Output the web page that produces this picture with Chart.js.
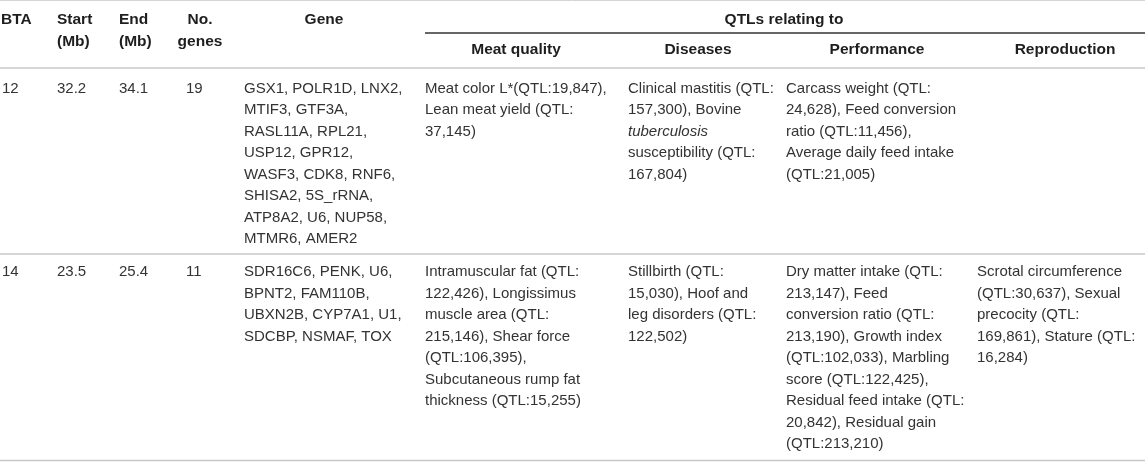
<!DOCTYPE html>
<html>
<head>
<meta charset="utf-8">
<script src="https://cdn.jsdelivr.net/npm/chart.js@4.4.1/dist/chart.umd.min.js"></script>
<style>
  html, body { margin: 0; padding: 0; background: #ffffff; }
  #wrap { width: 1145px; height: 462px; }
</style>
</head>
<body>
<div id="wrap"><canvas id="c" width="1145" height="462"></canvas></div>
<script>
// ---------- DATA ----------
const BTA = ["12", "14"];
const START_MB = ["32.2", "23.5"];
const END_MB = ["34.1", "25.4"];
const NO_GENES = ["19", "11"];
const GENES = [
  ["GSX1, POLR1D, LNX2,", "MTIF3, GTF3A,", "RASL11A, RPL21,", "USP12, GPR12,", "WASF3, CDK8, RNF6,", "SHISA2, 5S_rRNA,", "ATP8A2, U6, NUP58,", "MTMR6, AMER2"],
  ["SDR16C6, PENK, U6,", "BPNT2, FAM110B,", "UBXN2B, CYP7A1, U1,", "SDCBP, NSMAF, TOX"]
];
const MEAT_QUALITY = [
  ["Meat color L*(QTL:19,847),", "Lean meat yield (QTL:", "37,145)"],
  ["Intramuscular fat (QTL:", "122,426), Longissimus", "muscle area (QTL:", "215,146), Shear force", "(QTL:106,395),", "Subcutaneous rump fat", "thickness (QTL:15,255)"]
];
const DISEASES = [
  ["Clinical mastitis (QTL:", "157,300), Bovine", "_tuberculosis", "susceptibility (QTL:", "167,804)"],
  ["Stillbirth (QTL:", "15,030), Hoof and", "leg disorders (QTL:", "122,502)"]
];
const PERFORMANCE = [
  ["Carcass weight (QTL:", "24,628), Feed conversion", "ratio (QTL:11,456),", "Average daily feed intake", "(QTL:21,005)"],
  ["Dry matter intake (QTL:", "213,147), Feed", "conversion ratio (QTL:", "213,190), Growth index", "(QTL:102,033), Marbling", "score (QTL:122,425),", "Residual feed intake (QTL:", "20,842), Residual gain", "(QTL:213,210)"]
];
const REPRODUCTION = [
  [],
  ["Scrotal circumference", "(QTL:30,637), Sexual", "precocity (QTL:", "169,861), Stature (QTL:", "16,284)"]
];
const HEADERS = [["BTA"], ["Start", "(Mb)"], ["End", "(Mb)"], ["No.", "genes"], ["Gene"]];
const GROUP_HEADER = "QTLs relating to";
const SUB_HEADERS = ["Meat quality", "Diseases", "Performance", "Reproduction"];

// ---------- LAYOUT (styling only) ----------
const W = 1145, H = 462;
const FONT = '"Liberation Sans", Arial, sans-serif';
const BODY_SIZE = 15, HEAD_SIZE = 15.5;
const LINE = 21.5;
// column: header anchor, header align, body anchor, body align
const COLS = [
  { hx: 1,   ha: "left",   bx: 2,   ba: "left" },
  { hx: 57,  ha: "left",   bx: 57,  ba: "left" },
  { hx: 119, ha: "left",   bx: 119, ba: "left" },
  { hx: 200, ha: "center", bx: 186, ba: "left" },
  { hx: 324, ha: "center", bx: 244, ba: "left" },
  { hx: 516, ha: "center", bx: 425, ba: "left" },
  { hx: 698, ha: "center", bx: 628, ba: "left" },
  { hx: 877, ha: "center", bx: 786, ba: "left" },
  { hx: 1065, ha: "center", bx: 977, ba: "left" }
];
const HEAD_Y = [19.5, 41.5];
const SUB_Y = 50;
const GROUP_X = 784, GROUP_RULE = [425, W], GROUP_RULE_Y = 33;
const ROW_Y = [88.5, 272];
const RULES = [ { y: 0.5, c: "#d4d4d4", w: 1 }, { y: 68, c: "#c8c8c8", w: 1.5 }, { y: 254, c: "#c8c8c8", w: 1.5 }, { y: 460.5, c: "#c8c8c8", w: 1.5 } ];

const tablePlugin = {
  id: "tableText",
  afterDraw(chart) {
    const ctx = chart.ctx, xs = chart.scales.x, ys = chart.scales.y;
    const X = v => xs.getPixelForValue(v), Y = v => ys.getPixelForValue(v);
    ctx.save();
    // rules
    RULES.forEach(r => {
      ctx.strokeStyle = r.c; ctx.lineWidth = r.w;
      ctx.beginPath(); ctx.moveTo(X(0), Y(r.y)); ctx.lineTo(X(W), Y(r.y)); ctx.stroke();
    });
    ctx.strokeStyle = "#333333"; ctx.lineWidth = 1.5;
    ctx.beginPath(); ctx.moveTo(X(GROUP_RULE[0]), Y(GROUP_RULE_Y)); ctx.lineTo(X(GROUP_RULE[1]), Y(GROUP_RULE_Y)); ctx.stroke();

    ctx.textBaseline = "middle";
    // headers
    ctx.fillStyle = "#1e1e1e";
    ctx.font = "bold " + HEAD_SIZE + "px " + FONT;
    HEADERS.forEach((lines, i) => {
      ctx.textAlign = COLS[i].ha;
      lines.forEach((t, k) => ctx.fillText(t, X(COLS[i].hx), Y(HEAD_Y[k])));
    });
    ctx.textAlign = "center";
    ctx.fillText(GROUP_HEADER, X(GROUP_X), Y(HEAD_Y[0]));
    SUB_HEADERS.forEach((t, j) => {
      const c = COLS[5 + j];
      ctx.textAlign = c.ha;
      ctx.fillText(t, X(c.hx), Y(SUB_Y));
    });

    // body
    ctx.fillStyle = "#333333";
    const columns = [BTA.map(v => [v]), START_MB.map(v => [v]), END_MB.map(v => [v]), NO_GENES.map(v => [v]),
                     GENES, MEAT_QUALITY, DISEASES, PERFORMANCE, REPRODUCTION];
    columns.forEach((col, i) => {
      const c = COLS[i];
      ctx.textAlign = c.ba;
      col.forEach((lines, r) => {
        lines.forEach((t, k) => {
          let txt = t, style = "";
          if (t.startsWith("_")) { txt = t.slice(1); style = "italic "; }
          ctx.font = style + BODY_SIZE + "px " + FONT;
          ctx.fillText(txt, X(c.bx), Y(ROW_Y[r] + k * LINE));
        });
      });
    });
    ctx.restore();
  }
};

new Chart(document.getElementById("c"), {
  type: "scatter",
  data: { datasets: [{ data: [], showLine: false }] },
  options: {
    responsive: false,
    animation: false,
    layout: { padding: 0 },
    plugins: { legend: { display: false }, tooltip: { enabled: false } },
    scales: {
      x: { type: "linear", min: 0, max: W, display: false },
      y: { type: "linear", min: 0, max: H, reverse: true, display: false }
    }
  },
  plugins: [tablePlugin]
});
</script>
</body>
</html>
